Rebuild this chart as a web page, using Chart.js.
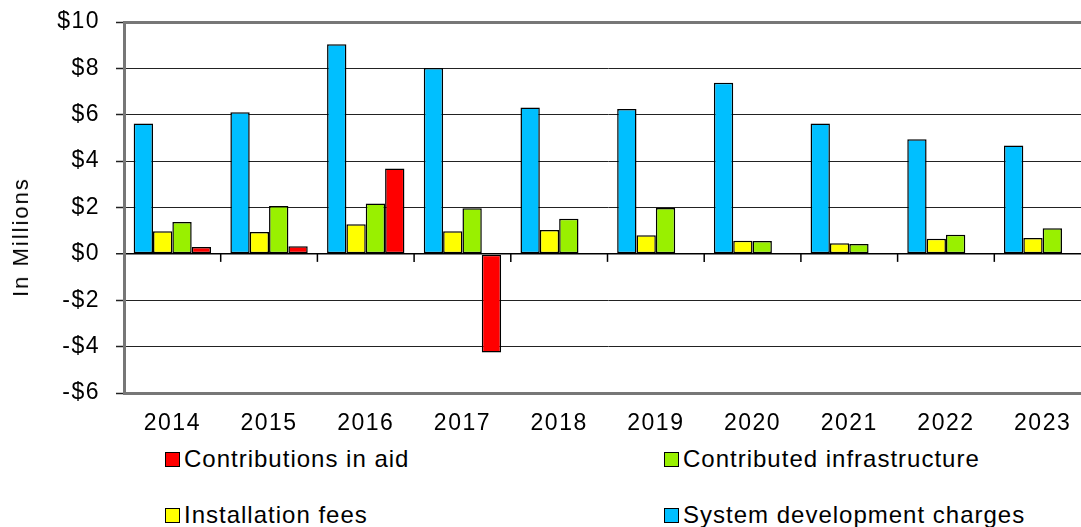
<!DOCTYPE html>
<html>
<head>
<meta charset="utf-8">
<script src="https://cdn.jsdelivr.net/npm/chart.js@4"></script>
<style>
  html, body { margin: 0; padding: 0; background: #fff; overflow: hidden; }
  body { width: 1081px; height: 527px; position: relative; font-family: Arial, "Liberation Sans", sans-serif; }
  #wrap { position: absolute; left: 0; top: 0; width: 1096px; height: 430px; }
  #yTitle {
    position: absolute; left: 21px; top: 237px;
    transform: translate(-50%, -50%) rotate(-90deg);
    font-size: 22px; letter-spacing: 2px; white-space: nowrap; color: #000;
  }
  .legend-item {
    position: absolute; display: flex; align-items: center;
    font-size: 24px; letter-spacing: 1px; color: #000; white-space: nowrap;
    transform: translateY(-50%);
  }
  .legend-item span.box {
    width: 13px; height: 13px; border: 1.5px solid #000; margin-right: 4px; display: inline-block;
  }
</style>
</head>
<body>
<div id="wrap"><canvas id="chart"></canvas></div>
<div id="yTitle">In Millions</div>
<div id="legend"></div>

<script>
// Revenue sources by year, in millions of dollars
const years = ["2014", "2015", "2016", "2017", "2018", "2019", "2020", "2021", "2022", "2023"];
const systemDevelopment = [5.62, 6.11, 9.04, 8.02, 6.31, 6.25, 7.38, 5.62, 4.94, 4.67];
const installationFees = [0.98, 0.94, 1.28, 0.98, 1.03, 0.80, 0.57, 0.46, 0.65, 0.69];
const contributedInfra = [1.37, 2.07, 2.17, 1.97, 1.52, 1.98, 0.55, 0.43, 0.83, 1.11];
const contributionsInAid = [0.30, 0.33, 3.68, -4.25, 0, 0, 0, 0, 0, 0];
const yTicks = [-6, -4, -2, 0, 2, 4, 6, 8, 10];

// legend reads in this order, two per row
const legendOrder = ["Contributions in aid", "Contributed infrastructure", "Installation fees", "System development charges"];

function money(v) {
  return v < 0 ? "-$" + Math.abs(v) : "$" + v;
}

// wider glyph spacing on the canvas text
const spacing = {
  id: "spacing",
  beforeLayout(chart) { chart.ctx.letterSpacing = "1.5px"; },
  beforeDraw(chart) { chart.ctx.letterSpacing = "1.5px"; }
};

// small tick marks under the zero line between year groups
const zeroTicks = {
  id: "zeroTicks",
  afterDatasetsDraw(chart) {
    const x = chart.scales.x, y = chart.scales.y;
    const y0 = y.getPixelForValue(0);
    const ctx = chart.ctx;
    ctx.save();
    ctx.strokeStyle = "#000";
    ctx.lineWidth = 1.5;
    for (let i = 1; i < years.length; i++) {
      const xb = (x.getPixelForValue(i - 1) + x.getPixelForValue(i)) / 2;
      ctx.beginPath();
      ctx.moveTo(xb, y0);
      ctx.lineTo(xb, y0 + 8);
      ctx.stroke();
    }
    ctx.restore();
  }
};

const bar = { borderColor: "#000", borderWidth: 1.5, borderSkipped: false, categoryPercentage: 0.8, barPercentage: 1 };
const tickFont = { family: "Arial, 'Liberation Sans'", size: 23 };

const chart = new Chart(document.getElementById("chart"), {
  type: "bar",
  data: {
    labels: years,
    datasets: [
      { label: "System development charges", data: systemDevelopment, backgroundColor: "#00BFFF", ...bar },
      { label: "Installation fees", data: installationFees, backgroundColor: "#FFFF00", ...bar },
      { label: "Contributed infrastructure", data: contributedInfra, backgroundColor: "#99F000", ...bar },
      { label: "Contributions in aid", data: contributionsInAid, backgroundColor: "#FF0000", ...bar }
    ]
  },
  options: {
    responsive: true,
    maintainAspectRatio: false,
    animation: false,
    layout: { padding: { top: 22, right: 5, left: 0, bottom: 0 } },
    plugins: { legend: { display: false }, tooltip: { enabled: false } },
    scales: {
      x: {
        grid: { display: false },
        border: { display: false },
        ticks: { color: "#000", font: tickFont, padding: 9, maxRotation: 0 },
        afterFit(scale) { scale.height = 37; }
      },
      y: {
        min: -6,
        max: 10,
        afterBuildTicks(scale) { scale.ticks = yTicks.map(v => ({ value: v })); },
        ticks: { color: "#000", font: tickFont, padding: 16, callback: money },
        grid: {
          color: c => c.tick.value === 0 ? "#000" : (c.tick.value === 10 || c.tick.value === -6 ? "#777" : "#222"),
          lineWidth: c => c.tick.value === 10 || c.tick.value === -6 ? 3 : (c.tick.value === 0 ? 1.5 : 1),
          tickColor: "#222",
          tickWidth: 1.5,
          tickLength: 8
        },
        border: { color: "#777", width: 3 },
        afterFit(scale) {
          scale.width = 124;
          // label padding should not push the plot down
          scale.paddingTop = 0;
          scale.paddingBottom = 0;
        }
      }
    }
  },
  plugins: [spacing, zeroTicks]
});

// legend built from the chart's datasets
const legendPos = [
  { left: 165, top: 459 }, { left: 664, top: 459 },
  { left: 165, top: 515 }, { left: 664, top: 515 }
];
const legend = document.getElementById("legend");
legendOrder.forEach((name, i) => {
  const ds = chart.data.datasets.find(d => d.label === name);
  const item = document.createElement("div");
  item.className = "legend-item";
  item.style.left = legendPos[i].left + "px";
  item.style.top = legendPos[i].top + "px";
  const box = document.createElement("span");
  box.className = "box";
  box.style.background = ds.backgroundColor;
  item.appendChild(box);
  item.appendChild(document.createTextNode(name));
  legend.appendChild(item);
});
</script>
</body>
</html>
